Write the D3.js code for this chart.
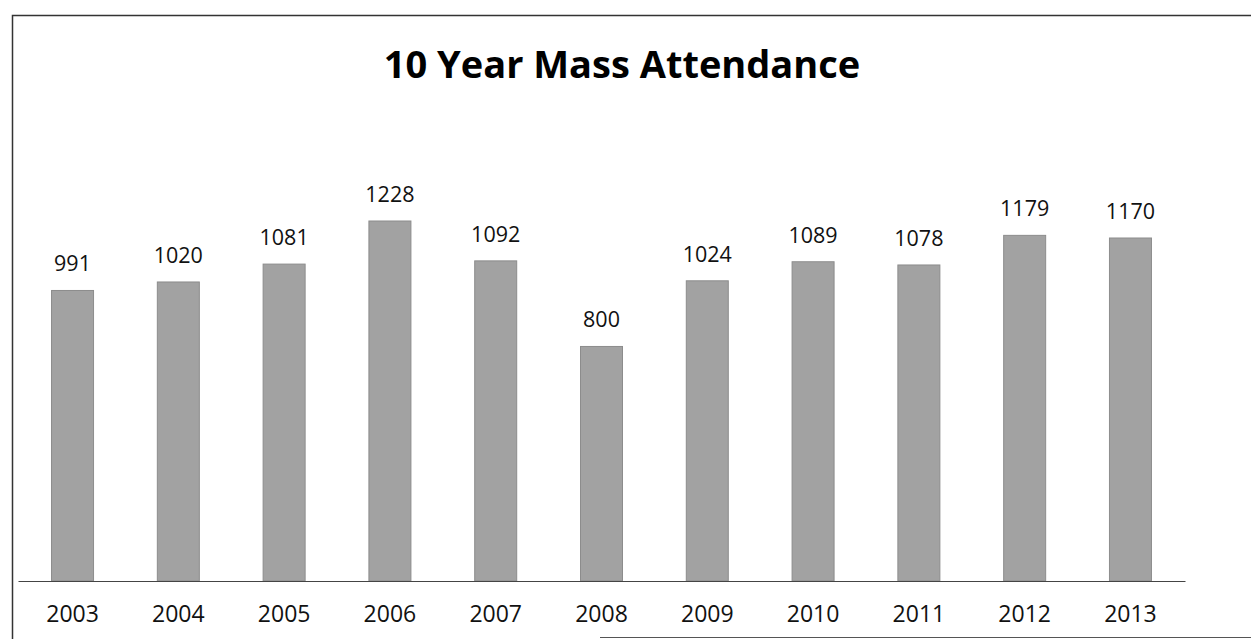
<!DOCTYPE html>
<html>
<head>
<meta charset="utf-8">
<script src="https://cdn.jsdelivr.net/npm/d3@7"></script>
<style>
  html, body { margin: 0; padding: 0; background: #fff; }
  svg { display: block; }
  .title { font-family: "Open Sans", sans-serif; font-weight: bold; font-size: 38px; fill: #000; }
  .val { font-family: "Open Sans", sans-serif; font-size: 21.5px; fill: #111; }
  .xaxis text { font-family: "Open Sans", sans-serif; font-size: 23px; fill: #111; }
</style>
</head>
<body>
<svg id="chart" width="1251" height="639"></svg>
<script>
// data
var years = ['2003', '2004', '2005', '2006', '2007', '2008', '2009', '2010', '2011', '2012', '2013'];
var attendance = [991, 1020, 1081, 1228, 1092, 800, 1024, 1089, 1078, 1179, 1170];
var title = '10 Year Mass Attendance';

var W = 1251, H = 639;
var plot = { left: 18, right: 1185, bottom: 581, top: 221 };

var svg = d3.select('#chart');

// frame of the scanned page (left / top edge, bit of bottom edge)
svg.append('path')
  .attr('d', 'M12.5,639 L12.5,15.5 L1251,15.5')
  .attr('fill', 'none').attr('stroke', '#333').attr('stroke-width', 1.5);
svg.append('line')
  .attr('x1', 600).attr('x2', W).attr('y1', 637.5).attr('y2', 637.5)
  .attr('stroke', '#555').attr('stroke-width', 1);

var x = d3.scaleBand().domain(years)
  .range([plot.left, plot.right])
  .paddingInner(0.603).paddingOuter(0.317);

var y = d3.scaleLinear().domain([0, d3.max(attendance)])
  .range([plot.bottom, plot.top]);

var rows = years.map(function(yr, i){ return { year: yr, v: attendance[i] }; });

svg.append('text').attr('class', 'title')
  .attr('x', 622).attr('y', 78).attr('text-anchor', 'middle')
  .text(title);

svg.selectAll('rect.bar').data(rows).enter().append('rect')
  .attr('class', 'bar')
  .attr('x', function(d){ return x(d.year); })
  .attr('width', x.bandwidth())
  .attr('y', function(d){ return y(d.v); })
  .attr('height', function(d){ return y(0) - y(d.v); })
  .attr('fill', '#a2a2a2')
  .attr('stroke', '#8c8c8c').attr('stroke-width', 1);

svg.selectAll('text.val').data(rows).enter().append('text')
  .attr('class', 'val')
  .attr('x', function(d){ return x(d.year) + x.bandwidth() / 2; })
  .attr('y', function(d){ return y(d.v) - 19; })
  .attr('text-anchor', 'middle')
  .text(function(d){ return d.v; });

var ax = svg.append('g').attr('class', 'xaxis')
  .attr('transform', 'translate(0,' + plot.bottom + ')')
  .call(d3.axisBottom(x).tickSize(0).tickSizeOuter(0).tickPadding(25));
ax.select('.domain').attr('stroke', '#444').attr('stroke-width', 1.2);
</script>
</body>
</html>
